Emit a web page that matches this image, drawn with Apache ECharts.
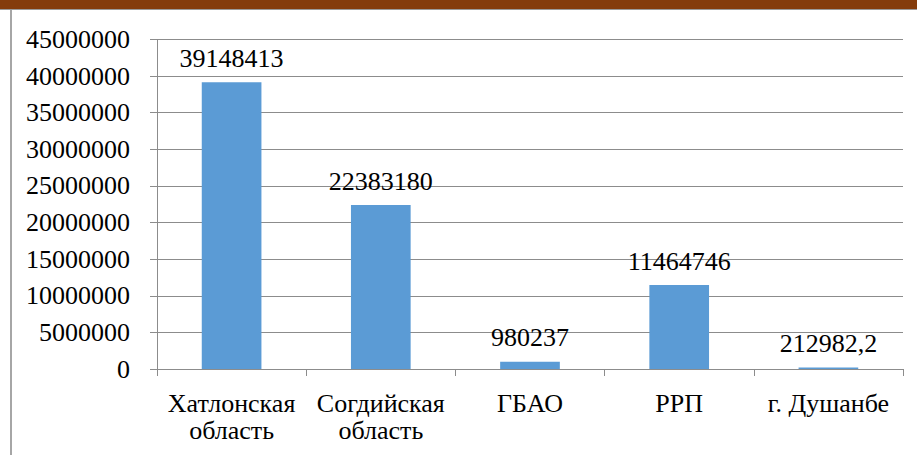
<!DOCTYPE html>
<html>
<head>
<meta charset="utf-8">
<script src="https://cdn.jsdelivr.net/npm/echarts@6/dist/echarts.min.js"></script>
<style>
html,body{margin:0;padding:0;background:#fff;}
#wrap{position:relative;width:917px;height:455px;}
#chart{position:absolute;left:0;top:0;width:917px;height:455px;}
#topband{position:absolute;left:0;top:0;width:917px;height:9px;background:#843C0C;border-bottom:1px solid #9a9a9a;pointer-events:none;}
#leftline{position:absolute;left:10px;top:10px;width:1.5px;height:445px;background:#a6a6a6;pointer-events:none;}
</style>
</head>
<body>
<div id="wrap">
<div id="chart"></div>
<div id="topband"></div>
<div id="leftline"></div>
</div>
<script>
const categories = ['Хатлонская\nобласть', 'Согдийская\nобласть', 'ГБАО', 'РРП', 'г. Душанбе'];
const values = [39148413, 22383180, 980237, 11464746, 212982.2];
const yMin = 0, yMax = 45000000, yInterval = 5000000;

const FAMILY = 'Liberation Serif, Times New Roman, serif';
const chart = echarts.init(document.getElementById('chart'), null, { renderer: 'svg' });
chart.setOption({
  animation: false,
  textStyle: { fontFamily: FAMILY },
  grid: { left: 157, right: 14, top: 39.5, bottom: 86 },
  xAxis: {
    type: 'category',
    data: categories,
    axisLine: { show: true, lineStyle: { color: '#8c8c8c', width: 1 } },
    axisTick: { show: true, length: 7, lineStyle: { color: '#8c8c8c' } },
    axisLabel: {
      interval: 0, margin: 21,
      fontFamily: FAMILY, fontSize: 26, lineHeight: 27, color: '#000'
    }
  },
  yAxis: {
    type: 'value',
    min: yMin, max: yMax, interval: yInterval,
    axisLine: { show: true, lineStyle: { color: '#8c8c8c', width: 1 } },
    axisTick: { show: true, length: 7, lineStyle: { color: '#8c8c8c' } },
    axisLabel: { fontFamily: FAMILY, fontSize: 26, color: '#000', margin: 27, formatter: v => String(v) },
    splitLine: { show: true, lineStyle: { color: '#8c8c8c', width: 1 } }
  },
  series: [{
    type: 'bar',
    data: values,
    barWidth: '40%',
    itemStyle: { color: '#5B9BD5' },
    label: {
      show: true, position: 'top', distance: 11,
      fontFamily: FAMILY, fontSize: 26, color: '#000',
      formatter: p => String(p.value).replace('.', ',')
    }
  }]
});
</script>
</body>
</html>
